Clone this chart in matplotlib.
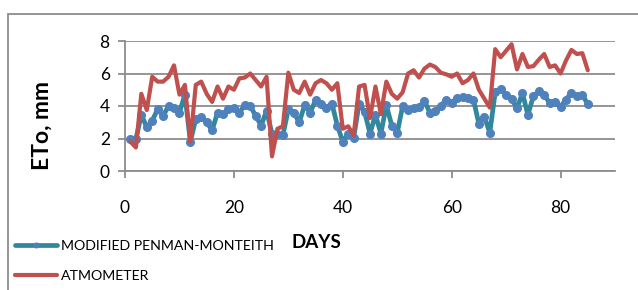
import matplotlib
matplotlib.use("Agg")
import matplotlib.pyplot as plt
from matplotlib.patches import Rectangle

plt.rcParams['font.family'] = ['Lato', 'DejaVu Sans']

days = list(range(1, 86))
penman = [2.0, 1.96, 3.45, 2.7, 3.1, 3.8, 3.4, 4.0, 3.9, 3.6,
          4.7, 1.8, 3.2, 3.3, 3.0, 2.5, 3.6, 3.5, 3.8, 3.9,
          3.6, 4.05, 4.0, 3.4, 2.8, 3.7, 2.3, 2.3, 2.2, 3.8,
          3.6, 3.0, 4.05, 3.6, 4.35, 4.15, 3.9, 4.15, 2.8, 1.8,
          2.3, 2.05, 4.15, 3.65, 2.3, 3.45, 2.3, 4.05, 2.8, 2.35,
          4.0, 3.75, 3.9, 3.95, 4.3, 3.6, 3.7, 4.0, 4.4, 4.2,
          4.5, 4.55, 4.5, 4.4, 2.9, 3.35, 2.35, 4.85, 5.05, 4.7,
          4.45, 3.85, 4.8, 3.45, 4.6, 4.9, 4.65, 4.2, 4.25, 3.95,
          4.4, 4.8, 4.6, 4.7, 4.1]
atmometer = [1.8, 1.45, 4.75, 3.75, 5.8, 5.5, 5.5, 5.8, 6.5, 4.7,
             5.3, 1.8, 5.3, 5.5, 4.75, 4.25, 5.2, 4.45, 5.2, 5.0,
             5.7, 5.75, 6.0, 5.6, 5.2, 5.8, 0.9, 2.6, 2.75, 6.05,
             5.0, 4.8, 5.5, 4.7, 5.4, 5.6, 5.4, 5.0, 5.4, 2.6,
             2.75, 2.2, 5.2, 5.3, 3.25, 5.2, 3.5, 5.5, 4.75, 4.45,
             4.85, 6.0, 6.2, 5.75, 6.3, 6.55, 6.4, 6.05, 5.95, 5.8,
             6.0, 5.4, 5.6, 6.0, 5.0, 4.45, 3.9, 7.5, 7.0, 7.4,
             7.8, 6.25, 7.2, 6.4, 6.45, 6.85, 7.2, 6.4, 6.5, 6.0,
             6.8, 7.45, 7.2, 7.25, 6.2]
xticks = [0, 20, 40, 60, 80]
yticks = [0, 2, 4, 6, 8]

W, H = 638, 290
fig = plt.figure(figsize=(W / 100, H / 100), dpi=100)
ax = fig.add_axes([125 / W, 1 - 171 / H, (615 - 125) / W, (171 - 41) / H])

grid_c = '#8c8c8c'
l1, = ax.plot(days, penman, color='#31879B', lw=3.4, marker='o', ms=5.5,
              mfc='#4F81BD', mec='#4F81BD', solid_joinstyle='round',
              solid_capstyle='round', label='MODIFIED PENMAN-MONTEITH', zorder=3)
l2, = ax.plot(days, atmometer, color='#C0504D', lw=3.0, solid_joinstyle='round',
              solid_capstyle='round', label='ATMOMETER', zorder=4)

ax.set_xlim(0, 90)
ax.set_ylim(0, 8)
ax.set_xticks(xticks)
ax.set_yticks(yticks)
ax.yaxis.grid(True, color=grid_c, lw=1.3)
ax.set_axisbelow(True)
for s in ['top', 'right']:
    ax.spines[s].set_visible(False)
for s in ['left', 'bottom']:
    ax.spines[s].set_color(grid_c)
    ax.spines[s].set_linewidth(1.3)
ax.tick_params(axis='both', colors=grid_c, width=1.3, length=5, labelsize=12.5,
               labelcolor='black')
ax.tick_params(axis='x', pad=16)
ax.tick_params(axis='y', pad=6)

fig.text(42 / W, 1 - 125 / H, 'ETo, mm', rotation=90, fontsize=16.5, fontweight='bold',
         ha='center', va='center')
fig.text(316 / W, 1 - 243 / H, 'DAYS', fontsize=13.5, fontweight='bold',
         ha='center', va='center')

fig.legend(handles=[l1, l2], loc='upper left', bbox_to_anchor=(15 / W, 1 - 240 / H),
           frameon=False, fontsize=10.2, handlelength=3.0, handletextpad=0.25,
           labelspacing=1.3, borderaxespad=0, borderpad=0, markerscale=0.6)

fig.patches.append(Rectangle((8 / W, -0.2), 1.2, 1.2 - 14 / H, transform=fig.transFigure,
                             fill=False, edgecolor='#8c8c8c', lw=1.3))

fig.savefig('out.png', dpi=100)
